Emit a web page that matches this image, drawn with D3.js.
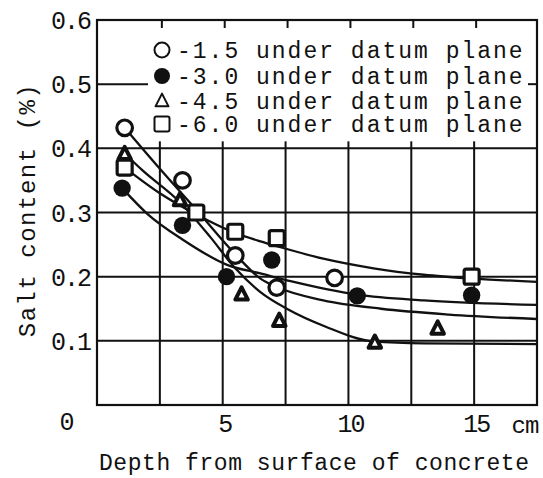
<!DOCTYPE html>
<html>
<head>
<meta charset="utf-8">
<script src="https://cdn.jsdelivr.net/npm/d3@7"></script>
<style>
  html, body { margin: 0; padding: 0; background: #fff; }
  svg { display: block; }
  text { font-family: "Liberation Mono", "Courier New", monospace; fill: #111; }
</style>
</head>
<body>
<svg id="chart" width="543" height="478"></svg>
<script>
// ---- data ----
const seriesNames = ["-1.5 under datum plane", "-3.0 under datum plane", "-4.5 under datum plane", "-6.0 under datum plane"];
const seriesShapes = ["openCircle", "filledCircle", "triangle", "square"];

// measured points (depth in cm, salt content in %)
const depthOpen = [1.1, 3.4, 5.5, 7.15, 9.45];
const saltOpen  = [0.432, 0.35, 0.233, 0.183, 0.198];
const depthFilled = [1.0, 3.4, 5.15, 6.95, 10.35, 14.9];
const saltFilled  = [0.338, 0.28, 0.2, 0.226, 0.17, 0.171];
const depthTri = [1.1, 3.3, 5.75, 7.25, 11.05, 13.55];
const saltTri  = [0.392, 0.32, 0.173, 0.132, 0.098, 0.12];
const depthSq = [1.1, 3.95, 5.5, 7.15, 14.9];
const saltSq  = [0.37, 0.30, 0.27, 0.26, 0.2];

// fitted curves
const fitOpenX = [1.1, 2.5, 4, 5.5, 6.5, 7.2, 9, 11.3, 14, 17.5];
const fitOpenY = [0.432, 0.368, 0.302, 0.235, 0.197, 0.183, 0.163, 0.15, 0.141, 0.134];
const fitFilledX = [1.0, 2, 3.4, 5.2, 6.5, 7.7, 10.35, 13, 17.5];
const fitFilledY = [0.338, 0.298, 0.258, 0.218, 0.205, 0.193, 0.172, 0.163, 0.156];
const fitTriX = [1.1, 1.8, 3.3, 4.5, 5.5, 6.5, 7.55, 9.1, 11, 13, 17.5];
const fitTriY = [0.392, 0.366, 0.316, 0.262, 0.213, 0.176, 0.15, 0.122, 0.099, 0.096, 0.095];
const fitSqX = [1.1, 2.5, 3.9, 5.5, 6.5, 7.2, 9, 11, 13, 15, 17.5];
const fitSqY = [0.37, 0.33, 0.298, 0.268, 0.255, 0.247, 0.228, 0.213, 0.203, 0.197, 0.192];

const xGrid = [2.5, 5, 7.5, 10, 12.5, 15];
const xTickLabels = [5, 10, 15];
const yGrid = [0.1, 0.2, 0.3, 0.4, 0.5];
const yTickLabels = [0.1, 0.2, 0.3, 0.4, 0.5, 0.6];
const xTitle = "Depth from surface of concrete";
const yTitle = "Salt content (%)";
const xUnit = "cm";

// ---- layout ----
const pLeft = 97, pRight = 537, pTop = 20, pBottom = 405;
const svg = d3.select("#chart");
const x = d3.scaleLinear().domain([0, 17.5]).range([pLeft, pRight]);
const y = d3.scaleLinear().domain([0, 0.6]).range([pBottom, pTop]);
const legendLeft = 148, legendBottom = y(0.4);

// grid lines
const g = svg.append("g").attr("stroke", "#111").attr("stroke-width", 2);
g.selectAll("line.vx").data(xGrid).join("line")
  .attr("x1", d => x(d)).attr("x2", d => x(d))
  .attr("y1", legendBottom).attr("y2", pBottom);
g.selectAll("line.hy").data(yGrid).join("line")
  .attr("x1", pLeft).attr("x2", d => d > 0.4 ? legendLeft : pRight)
  .attr("y1", d => y(d)).attr("y2", d => y(d));

// small inward ticks within the legend region
g.selectAll("line.tt").data(xGrid).join("line")
  .attr("x1", d => x(d) + 2).attr("x2", d => x(d) + 2)
  .attr("y1", pTop).attr("y2", pTop + 8);
g.selectAll("line.tb").data(xGrid.filter(d => x(d) > legendLeft)).join("line")
  .attr("x1", d => x(d)).attr("x2", d => x(d))
  .attr("y1", legendBottom).attr("y2", legendBottom - 7);
g.append("line").attr("x1", pRight).attr("x2", pRight - 9)
  .attr("y1", y(0.5)).attr("y2", y(0.5));

// frame
svg.append("rect").attr("x", pLeft).attr("y", pTop)
  .attr("width", pRight - pLeft).attr("height", pBottom - pTop)
  .attr("fill", "none").attr("stroke", "#111").attr("stroke-width", 2.2);

// y tick labels
svg.selectAll("text.yt").data(yTickLabels).join("text")
  .attr("x", 90).attr("y", d => y(d)).attr("dy", "0.36em")
  .attr("text-anchor", "end").attr("font-size", 25).attr("letter-spacing", -2)
  .text(d => d.toFixed(1));
// x tick labels
svg.selectAll("text.xt").data(xTickLabels).join("text")
  .attr("x", d => x(d) + 2).attr("y", 423).attr("dy", "0.36em")
  .attr("text-anchor", "middle").attr("font-size", 25).attr("letter-spacing", -2)
  .text(d => d);
svg.append("text").attr("x", 67).attr("y", 421).attr("dy", "0.36em")
  .attr("text-anchor", "middle").attr("font-size", 25).text("0");
svg.append("text").attr("x", 525).attr("y", 424).attr("dy", "0.36em")
  .attr("text-anchor", "middle").attr("font-size", 24).attr("letter-spacing", -1).text(xUnit);

// axis titles
svg.append("text").attr("x", 99).attr("y", 462).attr("dy", "0.36em")
  .attr("font-size", 23).attr("letter-spacing", 0.55).text(xTitle);
svg.append("text").attr("transform", "translate(26,210) rotate(-90)")
  .attr("dy", "0.36em").attr("text-anchor", "middle")
  .attr("font-size", 24).attr("letter-spacing", 1.5).text(yTitle);

// fitted curves
const line = d3.line().x(d => x(d[0])).y(d => y(d[1])).curve(d3.curveMonotoneX);
const fits = [[fitOpenX, fitOpenY], [fitFilledX, fitFilledY], [fitTriX, fitTriY], [fitSqX, fitSqY]];
svg.append("g").selectAll("path").data(fits).join("path")
  .attr("d", f => line(f[0].map((v, i) => [v, f[1][i]])))
  .attr("fill", "none").attr("stroke", "#111").attr("stroke-width", 2.3);

// marker drawing
function drawMarker(sel, shape, cx, cy, legend) {
  const sw = legend ? 2 : 3.2;
  if (shape === "openCircle") {
    sel.append("circle").attr("cx", cx).attr("cy", cy).attr("r", legend ? 7.5 : 7.8)
      .attr("fill", "#fff").attr("stroke", "#111").attr("stroke-width", sw);
  } else if (shape === "filledCircle") {
    sel.append("circle").attr("cx", cx).attr("cy", cy).attr("r", legend ? 8 : 8.7)
      .attr("fill", "#111");
  } else if (shape === "triangle") {
    const s = legend ? 13 : 12.5, h = s * 0.9;
    sel.append("path")
      .attr("d", `M${cx},${cy - h / 2 - 1}L${cx + s / 2},${cy + h / 2}L${cx - s / 2},${cy + h / 2}Z`)
      .attr("fill", "#fff").attr("stroke", "#111").attr("stroke-width", legend ? 2 : 4)
      .attr("stroke-linejoin", "round");
  } else {
    const s = 15;
    sel.append("rect").attr("x", cx - s / 2).attr("y", cy - s / 2)
      .attr("width", s).attr("height", s).attr("rx", 2)
      .attr("fill", "#fff").attr("stroke", "#111").attr("stroke-width", sw);
  }
}

const pts = [[depthOpen, saltOpen], [depthFilled, saltFilled], [depthTri, saltTri], [depthSq, saltSq]];
const mg = svg.append("g");
[3, 2, 0, 1].forEach(si => {
  pts[si][0].forEach((d, i) => drawMarker(mg, seriesShapes[si], x(d), y(pts[si][1][i]), false));
});

// legend
const lg = svg.append("g");
const rowY = [50, 76, 100.5, 124];
seriesNames.forEach((name, i) => {
  drawMarker(lg, seriesShapes[i], 162, rowY[i], true);
  lg.append("text").attr("x", 177).attr("y", rowY[i]).attr("dy", "0.36em")
    .attr("font-size", 23).attr("letter-spacing", 2).text(name);
});
</script>
</body>
</html>
